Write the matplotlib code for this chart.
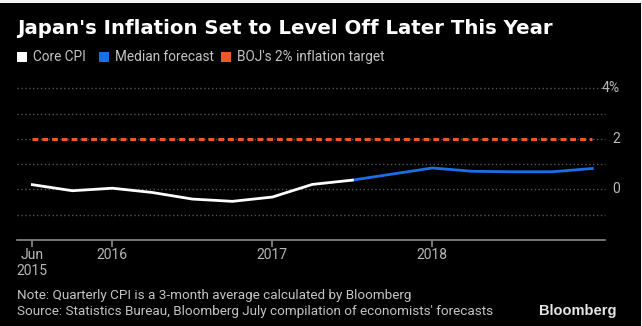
import matplotlib
matplotlib.use("Agg")
import matplotlib.pyplot as plt
from matplotlib.patches import Rectangle
import matplotlib.transforms as mtransforms

# Quarter-end positions expressed as fractional years
core_quarters = [2015.5, 2015.75, 2016.0, 2016.25, 2016.5, 2016.75, 2017.0, 2017.25, 2017.5]
core_cpi = [0.19, -0.05, 0.05, -0.12, -0.38, -0.47, -0.30, 0.20, 0.37]

forecast_quarters = [2017.5, 2017.75, 2018.0, 2018.25, 2018.5, 2018.75, 2019.0]
median_forecast = [0.37, 0.61, 0.85, 0.72, 0.70, 0.70, 0.83]

target_span = [2015.5, 2019.0]
boj_target = [2.0, 2.0]

x_ticks = [2015.5, 2016.0, 2017.0, 2018.0]
x_tick_labels = ["Jun\n2015", "2016", "2017", "2018"]
y_labels = {4: "4%", 2: "2", 0: "0"}
grid_levels = [-1, 0, 1, 2, 3, 4]

body_font = "Roboto"

W, H = 642, 326
fig = plt.figure(figsize=(W / 100, H / 100), dpi=100, facecolor="black")
# thin light frame along the top and right edges
fig.patches.append(Rectangle((0, 1 - 2.5 / H), 1, 2.5 / H, transform=fig.transFigure,
                             facecolor="#f4f4f4", edgecolor="none", zorder=10))
fig.patches.append(Rectangle((1 - 1.2 / W, 0), 1.2 / W, 1, transform=fig.transFigure,
                             facecolor="#f4f4f4", edgecolor="none", zorder=10))

ax = fig.add_axes([17 / W, 1 - 240 / H, (605 - 17) / W, (240 - 88.4) / H])
ax.set_facecolor("black")
ax.set_xlim(2015.404, 2019.079)
ax.set_ylim(-2, 4)

for lv in grid_levels:
    ax.axhline(lv, color="#555555", lw=1.0, ls=(0, (1, 1.8)), zorder=1, clip_on=False)

ax.plot(target_span, boj_target, color="#f0562a", lw=2.2, ls=(0, (1.9, 1.3)),
        solid_capstyle="butt", zorder=3)
ax.plot(forecast_quarters, median_forecast, color="#1c6ee8", lw=2.0, zorder=4,
        solid_joinstyle="round")
ax.plot(core_quarters, core_cpi, color="white", lw=2.0, zorder=5,
        solid_joinstyle="round")

for s in ["top", "left", "right"]:
    ax.spines[s].set_visible(False)
ax.spines["bottom"].set_color("#8a8a8a")
ax.spines["bottom"].set_linewidth(1.2)
ax.set_yticks([])
ax.set_xticks(x_ticks)
ax.set_xticklabels(x_tick_labels, fontsize=10, color="#b8b8b8", family=body_font,
                   linespacing=1.25)
ax.tick_params(axis="x", direction="out", length=5, width=1.2, color="#8a8a8a", pad=0.5)

ytrans = mtransforms.blended_transform_factory(fig.transFigure, ax.transData)
for v, t in y_labels.items():
    ax.text(620 / W, v, t, transform=ytrans, ha="right", va="center",
            fontsize=10, color="#b8b8b8", family=body_font)

fig.text(17 / W, 1 - 28 / H, "Japan's Inflation Set to Level Off Later This Year",
         fontsize=14.2, fontweight="bold", color="white", va="center", family="DejaVu Sans")

legend_items = [("Core CPI", "white", 17), ("Median forecast", "#1c6ee8", 99),
                ("BOJ's 2% inflation target", "#f0562a", 221)]
for label, col, x0 in legend_items:
    fig.patches.append(Rectangle((x0 / W, 1 - 62 / H), 10 / W, 10 / H,
                                 transform=fig.transFigure, facecolor=col,
                                 edgecolor="none", zorder=2))
    fig.text((x0 + 16) / W, 1 - 57 / H, label, fontsize=9.8, color="#c4c4c4",
             va="center", family=body_font)

fig.text(17 / W, 1 - 295 / H, "Note: Quarterly CPI is a 3-month average calculated by Bloomberg",
         fontsize=9.7, color="#c4c4c4", va="center", family=body_font)
fig.text(17 / W, 1 - 311 / H, "Source: Statistics Bureau, Bloomberg July compilation of economists' forecasts",
         fontsize=9.7, color="#c4c4c4", va="center", family=body_font)
fig.text(617 / W, 1 - 311 / H, "Bloomberg", fontsize=10.5, fontweight="bold",
         color="#e6e6e6", ha="right", va="center", family="Liberation Sans")

fig.savefig("out.png", dpi=100, facecolor=fig.get_facecolor())
